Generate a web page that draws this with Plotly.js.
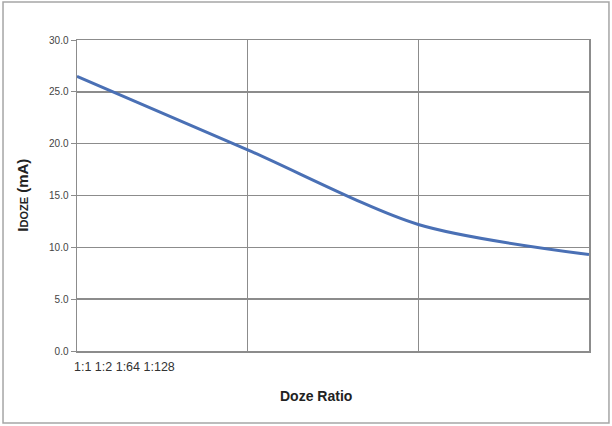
<!DOCTYPE html>
<html>
<head>
<meta charset="utf-8">
<script src="https://cdn.plot.ly/plotly-3.0.1.min.js"></script>
<style>
  html, body { margin: 0; padding: 0; background: #fff; }
  #chart { width: 612px; height: 426px; }
</style>
</head>
<body>
<div id="chart"></div>
<script>
// doze ratio categories and measured current
const ratios = ["1:1", "1:2", "1:64", "1:128"];
const idoze_mA = [26.5, 19.4, 12.2, 9.3];
const y_ticks = [0, 5, 10, 15, 20, 25, 30];

function plot_doze({div_id, labels, values}) {
    let el = document.querySelector(div_id);
    if (!el) {
        return;
    }

    let trace = {
        x: labels.map((_, i) => i),
        y: values,
        type: "scatter",
        mode: "lines",
        line: {
            color: "#4a70b5",
            width: 3,
            shape: "spline",
            smoothing: 0.8
        },
        hoverinfo: "skip"
    };

    let grid = "#8c8c8c";

    let layout = {
        width: 612,
        height: 426,
        margin: {l: 77, r: 23, t: 40, b: 75, pad: 0},
        paper_bgcolor: "#fff",
        plot_bgcolor: "#fff",
        showlegend: false,
        font: {family: "Liberation Sans, Arial, sans-serif", color: "#333"},
        xaxis: {
            range: [0, labels.length - 1],
            showticklabels: false,
            ticks: "",
            dtick: 1,
            showgrid: true,
            gridcolor: grid,
            gridwidth: 1.5,
            zeroline: false,
            showline: true,
            linecolor: grid,
            linewidth: 1.5,
            mirror: true,
            fixedrange: true
        },
        yaxis: {
            range: [0, 30],
            tickvals: y_ticks,
            tickformat: ".1f",
            ticks: "outside",
            ticklen: 5,
            tickcolor: grid,
            tickfont: {size: 10, color: "#444"},
            showgrid: true,
            gridcolor: grid,
            gridwidth: 1.5,
            zeroline: false,
            showline: true,
            linecolor: grid,
            linewidth: 1.5,
            mirror: true,
            fixedrange: true
        },
        annotations: [
            {
                text: labels.join(" "),
                xref: "paper", yref: "paper",
                x: -0.01, y: -0.051,
                xanchor: "left", yanchor: "middle",
                showarrow: false,
                font: {size: 12.5, color: "#333"}
            },
            {
                text: "<b>Doze Ratio</b>",
                xref: "paper", yref: "paper",
                x: 0.466, y: -0.145,
                xanchor: "center", yanchor: "middle",
                showarrow: false,
                font: {size: 14, color: "#222"}
            },
            {
                text: "<b>I<span style='font-size:11px'>DOZE</span> (mA)</b>",
                xref: "paper", yref: "paper",
                x: -0.107, y: 0.5,
                xanchor: "center", yanchor: "middle",
                textangle: -90,
                showarrow: false,
                font: {size: 15, color: "#222"}
            }
        ],
        shapes: [
            {
                type: "rect",
                xref: "paper", yref: "paper",
                x0: -0.1445, x1: 1.039,
                y0: -0.2315, y1: 1.122,
                line: {color: "#a6a6a6", width: 1.5},
                layer: "below"
            }
        ]
    };

    return Plotly.newPlot(el, [trace], layout, {displayModeBar: false, staticPlot: true});
}

plot_doze({div_id: "#chart", labels: ratios, values: idoze_mA});
</script>
</body>
</html>
